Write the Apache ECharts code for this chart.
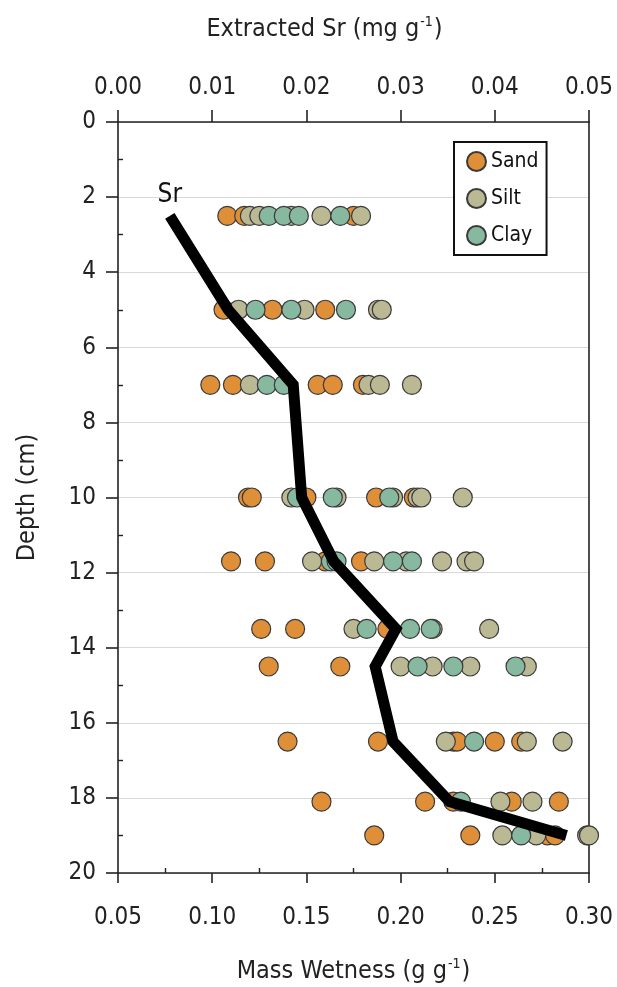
<!DOCTYPE html>
<html>
<head>
<meta charset="utf-8">
<title>Depth profile: mass wetness and extracted Sr</title>
<script src="https://cdn.jsdelivr.net/npm/echarts@6/dist/echarts.min.js"></script>
<style>
  html, body { margin: 0; padding: 0; background: #fff; }
  #chart { width: 617px; height: 987px; }
</style>
</head>
<body>
<div id="chart"></div>
<script>
// Sampling depths (cm), one row of measurements per depth
const rowDepths = [2.5, 5, 7, 10, 11.7, 13.5, 14.5, 16.5, 18.1, 19];

// Mass wetness (g g-1) per depth row, by texture class
const sandWetness = [
  [0.108, 0.117, 0.175],
  [0.106, 0.132, 0.160],
  [0.099, 0.111, 0.156, 0.164, 0.180],
  [0.119, 0.121, 0.150, 0.187, 0.207],
  [0.110, 0.128, 0.160, 0.179],
  [0.126, 0.144, 0.193],
  [0.130, 0.168],
  [0.140, 0.188, 0.228, 0.230, 0.250, 0.264],
  [0.158, 0.213, 0.228, 0.259, 0.284],
  [0.186, 0.237, 0.278, 0.282]
];
const siltWetness = [
  [0.120, 0.125, 0.142, 0.158, 0.179],
  [0.114, 0.149, 0.188, 0.190],
  [0.120, 0.183, 0.189, 0.206],
  [0.142, 0.166, 0.196, 0.209, 0.211, 0.233],
  [0.153, 0.186, 0.203, 0.222, 0.235, 0.239],
  [0.175, 0.217, 0.247],
  [0.200, 0.217, 0.237, 0.267],
  [0.224, 0.267, 0.286],
  [0.253, 0.270],
  [0.254, 0.272, 0.299, 0.300]
];
const clayWetness = [
  [0.130, 0.138, 0.146, 0.168],
  [0.123, 0.142, 0.171],
  [0.129, 0.138],
  [0.145, 0.164, 0.194],
  [0.163, 0.166, 0.196, 0.206],
  [0.182, 0.205, 0.216],
  [0.209, 0.228, 0.261],
  [0.239],
  [0.232],
  [0.264]
];

// Extracted Sr (mg g-1) at each depth row
const srValues = [0.0055, 0.0117, 0.0186, 0.0195, 0.0229, 0.0295, 0.0273, 0.0292, 0.0352, 0.0476];

// Axis ranges and ticks: [min, max, interval]
const wetnessTicks = [0.05, 0.30, 0.05];
const srTicks = [0.00, 0.05, 0.01];
const depthTicks = [0, 20, 2];

const FONT = "'Liberation Sans Narrow', 'DejaVu Sans Condensed', 'Roboto', sans-serif";
const INK = '#222';
const COLORS = { Sand: '#DF8F37', Silt: '#BBB894', Clay: '#87B9A1' };

function toPoints(rows) {
  const out = [];
  rows.forEach((vals, i) => vals.forEach(v => out.push([v, rowDepths[i]])));
  return out;
}

const srLine = srValues.map((v, i) => {
  const item = { value: [v, rowDepths[i]] };
  if (i === 0) {
    item.label = {
      show: true, formatter: 'Sr', position: 'top', distance: 8,
      fontFamily: FONT, fontSize: 26, color: '#111'
    };
  }
  return item;
});

function scatterSeries(name, rows) {
  return {
    name: name,
    type: 'scatter',
    xAxisIndex: 0,
    yAxisIndex: 0,
    symbol: 'circle',
    symbolSize: 19,
    z: 3,
    itemStyle: { color: COLORS[name], borderColor: '#3a3a3a', borderWidth: 1.2, opacity: 1 },
    emphasis: { disabled: true },
    data: toPoints(rows)
  };
}

const axisLine = { show: true, onZero: false, lineStyle: { color: INK, width: 1.6 } };
const labelStyle = { fontFamily: FONT, fontSize: 24, color: INK };
const titleRich = {
  a: { fontFamily: FONT, fontSize: 25, color: INK, lineHeight: 28 },
  s: { fontFamily: FONT, fontSize: 14, color: INK, verticalAlign: 'top', lineHeight: 28, padding: [0, 1, 0, 1] }
};

const chart = echarts.init(document.getElementById('chart'), null, { renderer: 'canvas' });
chart.setOption({
  animation: false,
  backgroundColor: '#fff',
  grid: { left: 118, right: 28, top: 122, bottom: 114, containLabel: false, outerBoundsMode: 'none' },
  legend: {
    orient: 'vertical',
    left: 454, top: 142,
    padding: [9, 8, 9, 12],
    itemGap: 16,
    itemWidth: 19, itemHeight: 19,
    icon: 'circle',
    borderColor: '#111', borderWidth: 2,
    backgroundColor: '#fff',
    textStyle: { fontFamily: FONT, fontSize: 21, color: '#111', padding: [0, 0, 0, 0] },
    data: ['Sand', 'Silt', 'Clay']
  },
  xAxis: [
    {
      // bottom axis: mass wetness
      type: 'value', position: 'bottom',
      min: wetnessTicks[0], max: wetnessTicks[1], interval: wetnessTicks[2],
      name: '{a|Mass Wetness (g g}{s|-1}{a|)}',
      nameLocation: 'middle', nameGap: 84,
      nameTextStyle: { rich: titleRich },
      axisLine: axisLine,
      axisTick: { show: true, length: 10, lineStyle: { color: INK, width: 1.6 } },
      axisLabel: Object.assign({ margin: 33, formatter: v => v.toFixed(2) }, labelStyle),
      splitLine: { show: false }
    },
    {
      // top axis: extracted Sr
      type: 'value', position: 'top',
      min: srTicks[0], max: srTicks[1], interval: srTicks[2],
      name: '{a|Extracted Sr (mg g}{s|-1}{a|)}',
      nameLocation: 'middle', nameGap: 79,
      nameTextStyle: { padding: [0, 58, 0, 0], rich: titleRich },
      axisLine: axisLine,
      axisTick: { show: true, length: 12, lineStyle: { color: INK, width: 1.6 } },
      axisLabel: Object.assign({ margin: 22, formatter: v => v.toFixed(2) }, labelStyle),
      splitLine: { show: false }
    },
    {
      // bottom minor ticks, pointing into the plot
      type: 'value', position: 'bottom',
      min: wetnessTicks[0], max: wetnessTicks[1], interval: wetnessTicks[2],
      axisLine: { show: false, onZero: false },
      axisTick: { show: false, inside: true },
      minorTick: { show: true, splitNumber: 2, length: 5, lineStyle: { color: INK, width: 1.4 } },
      axisLabel: { show: false },
      splitLine: { show: false }
    }
  ],
  yAxis: [
    {
      type: 'value', position: 'left', inverse: true,
      min: depthTicks[0], max: depthTicks[1], interval: depthTicks[2],
      name: 'Depth (cm)',
      nameLocation: 'middle', nameGap: 78,
      nameTextStyle: { fontFamily: FONT, fontSize: 25, color: INK },
      axisLine: axisLine,
      axisTick: { show: true, length: 12, lineStyle: { color: INK, width: 1.6 } },
      axisLabel: Object.assign({ margin: 22 }, labelStyle),
      splitLine: { show: true, lineStyle: { color: '#d9d9d9', width: 1.2 } }
    },
    {
      // left minor ticks, pointing into the plot
      type: 'value', position: 'left', inverse: true,
      min: depthTicks[0], max: depthTicks[1], interval: depthTicks[2],
      axisLine: { show: false, onZero: false },
      axisTick: { show: false, inside: true },
      minorTick: { show: true, splitNumber: 2, length: 5, lineStyle: { color: INK, width: 1.4 } },
      axisLabel: { show: false },
      splitLine: { show: false }
    },
    {
      // right frame line
      type: 'value', position: 'right', inverse: true,
      min: depthTicks[0], max: depthTicks[1], interval: depthTicks[2],
      axisLine: axisLine,
      axisTick: { show: false },
      axisLabel: { show: false },
      splitLine: { show: false }
    }
  ],
  series: [
    scatterSeries('Sand', sandWetness),
    scatterSeries('Silt', siltWetness),
    scatterSeries('Clay', clayWetness),
    {
      name: 'Sr',
      type: 'line',
      xAxisIndex: 1,
      yAxisIndex: 0,
      z: 5,
      symbol: 'circle',
      symbolSize: 0,
      showSymbol: true,
      lineStyle: { color: '#000', width: 11, join: 'miter', cap: 'butt' },
      itemStyle: { color: '#000' },
      emphasis: { disabled: true },
      data: srLine
    }
  ]
});
</script>
</body>
</html>
